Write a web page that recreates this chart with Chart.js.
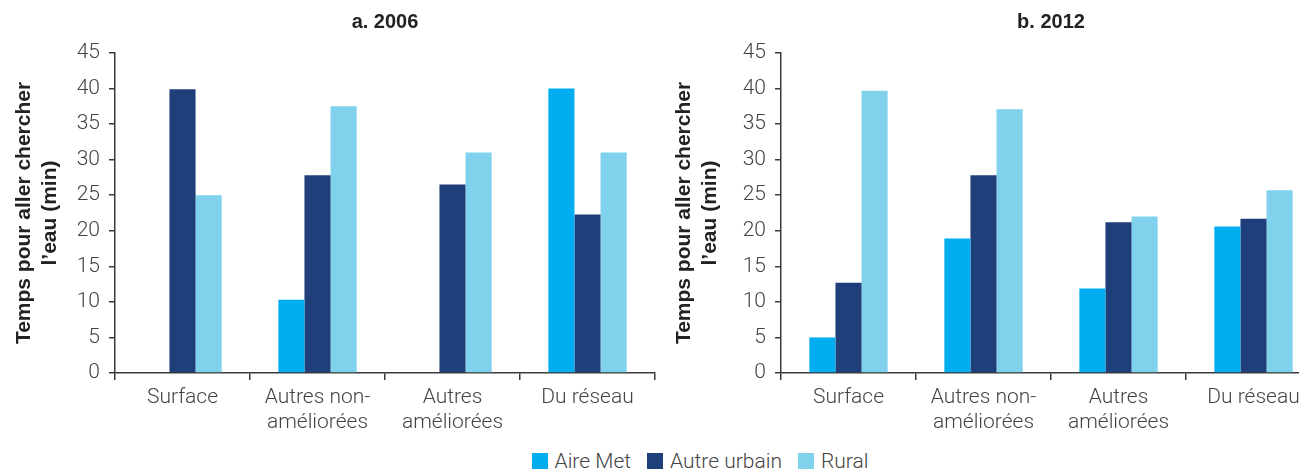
<!DOCTYPE html>
<html>
<head>
<meta charset="utf-8">
<script src="https://cdn.jsdelivr.net/npm/chart.js@4/dist/chart.umd.min.js"></script>
<style>
  body { margin: 0; background: #fff; overflow: hidden; width: 1299px; height: 473px; position: relative; }
  canvas { position: absolute; top: 0; }
  #chart2006 { left: 0; z-index: 2; }
  #chart2012 { left: 660px; z-index: 1; }
  #legend { position: absolute; top: 449px; left: 0; width: 1400px; text-align: center;
            font-family: Roboto, 'Liberation Sans', Arial, sans-serif; font-weight: 300; font-size: 21px; color: #444; }
  #legend span.item { display: inline-block; margin: 0 8px; }
  #legend span.box { display: inline-block; width: 16px; height: 16px; margin-right: 7px; vertical-align: -1px; }
</style>
</head>
<body>
<canvas id="chart2006" width="770" height="445"></canvas>
<canvas id="chart2012" width="770" height="445"></canvas>
<div id="legend"></div>

<script>
// categories and series
const categories = ['Surface', ['Autres non-', 'améliorées'], ['Autres', 'améliorées'], 'Du réseau'];
const seriesNames = ['Aire Met', 'Autre urbain', 'Rural'];
const seriesColors = ['#00aeef', '#1f3f7b', '#7fd1ec'];

// 2006 values (minutes)
const aireMet2006 = [null, 10.3, null, 40.0];
const autreUrbain2006 = [39.9, 27.8, 26.5, 22.3];
const rural2006 = [25.0, 37.5, 31.0, 31.0];

// 2012 values (minutes)
const aireMet2012 = [5.0, 18.9, 11.9, 20.6];
const autreUrbain2012 = [12.7, 27.8, 21.2, 21.7];
const rural2012 = [39.7, 37.1, 22.0, 25.7];

const yTicks = [0, 5, 10, 15, 20, 25, 30, 35, 40, 45];

const fontFamily = "Roboto, 'Liberation Sans', Arial, sans-serif";
const boldFamily = "'Liberation Sans', Arial, sans-serif";
const axisColor = '#3a3a3a';

function makeChart(id, title, values, yAxisWidth) {
    const datasets = values.map(function (v, i) {
        return {
            label: seriesNames[i],
            data: v,
            backgroundColor: seriesColors[i],
            borderWidth: 0,
            categoryPercentage: 0.58,
            barPercentage: 1.0
        };
    });

    return new Chart(document.getElementById(id).getContext('2d'), {
        type: 'bar',
        data: { labels: categories, datasets: datasets },
        options: {
            responsive: false,
            animation: false,
            layout: { padding: { left: 0, right: 770 - yAxisWidth - 540, top: 0, bottom: 0 } },
            plugins: {
                legend: { display: false },
                tooltip: { enabled: false },
                title: {
                    display: true,
                    fullSize: false,
                    text: title,
                    color: '#222',
                    font: { family: boldFamily, size: 20, weight: 'bold', lineHeight: 1.2 },
                    padding: { top: 10, bottom: 19 }
                }
            },
            scales: {
                x: {
                    grid: { display: true, drawOnChartArea: false, drawTicks: true, tickLength: 7, color: axisColor, lineWidth: 1.5 },
                    border: { display: true, color: axisColor, width: 1.5 },
                    ticks: { color: '#444', font: { family: fontFamily, size: 21, weight: 300, lineHeight: 1.2 }, padding: 5, maxRotation: 0, autoSkip: false },
                    afterFit: function (scale) { scale.height = 445 - 373; }
                },
                y: {
                    min: 0,
                    max: 45,
                    afterBuildTicks: function (scale) { scale.ticks = yTicks.map(function (v) { return { value: v }; }); },
                    grid: { display: true, drawOnChartArea: false, drawTicks: true, tickLength: 6, color: axisColor, lineWidth: 1.5 },
                    border: { display: true, color: axisColor, width: 1.5 },
                    ticks: { color: '#444', font: { family: fontFamily, size: 21, weight: 300 }, padding: 9 },
                    title: {
                        display: true,
                        text: ['Temps pour aller chercher', 'l\u2019eau (min)'],
                        color: '#222',
                        font: { family: boldFamily, size: 21, weight: 'bold', lineHeight: 1.2 },
                        padding: { top: 12, bottom: 0 }
                    },
                    afterFit: function (scale) { scale.width = yAxisWidth; }
                }
            }
        }
    });
}

makeChart('chart2006', 'a. 2006', [aireMet2006, autreUrbain2006, rural2006], 115);
makeChart('chart2012', 'b. 2012', [aireMet2012, autreUrbain2012, rural2012], 121);

// shared legend
const legend = document.getElementById('legend');
seriesNames.forEach(function (name, i) {
    const item = document.createElement('span');
    item.className = 'item';
    item.innerHTML = '<span class="box" style="background:' + seriesColors[i] + '"></span>' + name;
    legend.appendChild(item);
});
</script>
</body>
</html>
